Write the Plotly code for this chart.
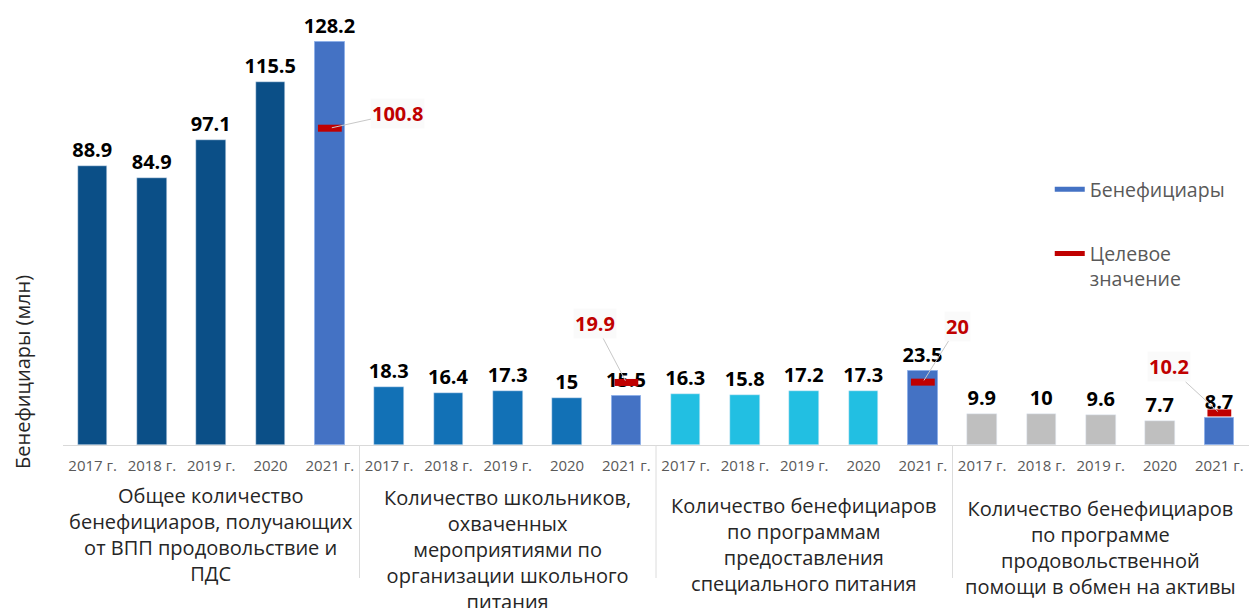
import plotly.graph_objects as go

# ---------------- data ----------------
years = ["2017 г.", "2018 г.", "2019 г.", "2020", "2021 г."]
groups = [
    "Общее количество<br>бенефициаров, получающих<br>от ВПП продовольствие и<br>ПДС",
    "Количество школьников,<br>охваченных<br>мероприятиями по<br>организации школьного<br>питания",
    "Количество бенефициаров<br>по программам<br>предоставления<br>специального питания",
    "Количество бенефициаров<br>по программе<br>продовольственной<br>помощи в обмен на активы",
]
values_total = [88.9, 84.9, 97.1, 115.5, 128.2]
values_school = [18.3, 16.4, 17.3, 15, 15.5]
values_special = [16.3, 15.8, 17.2, 17.3, 23.5]
values_assets = [9.9, 10, 9.6, 7.7, 8.7]
targets_2021 = [100.8, 19.9, 20, 10.2]

# ---------------- styling ----------------
group_colors = ["#0b4f87", "#1271b6", "#22bfe2", "#bfbfbf"]
c2021 = "#4472c4"
red = "#c00000"
FONT = "Open Sans"

all_vals = [values_total, values_school, values_special, values_assets]
n_years = len(years)

hist_x, hist_y, hist_c = [], [], []
cur_x, cur_y = [], []
for g, vals in enumerate(all_vals):
    for i, v in enumerate(vals):
        idx = g * n_years + i
        if i == n_years - 1:
            cur_x.append(idx)
            cur_y.append(v)
        else:
            hist_x.append(idx)
            hist_y.append(v)
            hist_c.append(group_colors[g])

fig = go.Figure()
lblfont = dict(family=FONT, size=20, color="#000000")
fig.add_trace(go.Bar(
    x=hist_x, y=hist_y, marker_color=hist_c, width=0.5,
    text=[f"<b>{v:g}</b>" for v in hist_y], textposition="outside",
    textfont=lblfont, constraintext="none", cliponaxis=False,
    showlegend=False, hoverinfo="skip",
))
fig.add_trace(go.Bar(
    x=cur_x, y=cur_y, marker_color=c2021, width=0.5,
    marker_line=dict(color="#8fb0e8", width=1),
    text=[f"<b>{v:g}</b>" for v in cur_y], textposition="outside",
    textfont=lblfont, constraintext="none", cliponaxis=False,
    showlegend=False, hoverinfo="skip",
))
fig.add_trace(go.Scatter(
    x=cur_x, y=targets_2021, mode="markers",
    marker=dict(symbol="line-ew", size=17, line=dict(color=red, width=7)),
    showlegend=False, cliponaxis=False, hoverinfo="skip",
))
# legend entries (no data)
fig.add_trace(go.Scatter(
    x=[None], y=[None], mode="lines", name="Бенефициары",
    line=dict(color=c2021, width=10), legendgroup="a",
))
fig.add_trace(go.Scatter(
    x=[None], y=[None], mode="lines", name="Целевое<br>значение",
    line=dict(color=red, width=4), legendgroup="b",
))

# target labels with leader lines
offsets = [(68, -15), (-31, -59), (35, -56), (-50, -46)]
for x, t, (ax, ay) in zip(cur_x, targets_2021, offsets):
    fig.add_annotation(
        x=x, y=t, xref="x", yref="y", ax=ax, ay=ay, axref="pixel", ayref="pixel",
        text=f"<b>{t:g}</b>", showarrow=True, arrowhead=0, arrowwidth=1,
        arrowcolor="#c8c8c8", standoff=2,
        font=dict(family=FONT, size=20, color=red), bgcolor="rgba(250,250,250,0.9)",
    )

# geometry helpers
PLOT_TOP, PLOT_BOT = 5, 445
H = PLOT_BOT - PLOT_TOP
def py(p):
    return (PLOT_BOT - p) / H

label_tops = [480, 482, 490, 493]
for g, txt in enumerate(groups):
    fig.add_annotation(
        x=g * n_years + (n_years - 1) / 2, y=py(label_tops[g]), xref="x", yref="paper",
        text=txt, showarrow=False, yanchor="top", xanchor="center",
        font=dict(family=FONT, size=20, color="#262626"),
    )

for g in range(1, len(groups)):
    xs = g * n_years - 0.5
    fig.add_shape(type="line", x0=xs, x1=xs, y0=py(445), y1=py(578), xref="x", yref="paper",
                  line=dict(color="#dcdcdc", width=1))

fig.add_annotation(
    x=-0.0346, y=py(372), xref="paper", yref="paper", text="Бенефициары (млн)",
    textangle=-90, showarrow=False, xanchor="center", yanchor="middle",
    font=dict(family=FONT, size=20, color="#262626"),
)

tickvals = list(range(len(groups) * n_years))
ticktext = years * len(groups)

fig.update_layout(
    width=1249, height=608,
    margin=dict(l=63, r=0, t=PLOT_TOP, b=608 - PLOT_BOT),
    paper_bgcolor="white", plot_bgcolor="white",
    barmode="overlay", bargap=0,
    xaxis=dict(range=[-0.5, 19.5], tickvals=tickvals, ticktext=ticktext,
               tickfont=dict(family=FONT, size=15, color="#595959"),
               ticklabelstandoff=7,
               showline=True, linecolor="#d9d9d9", linewidth=1,
               showgrid=False, zeroline=False, ticks="", fixedrange=True),
    yaxis=dict(range=[0, 140], visible=False, fixedrange=True),
    legend=dict(x=0.832, y=py(170), xanchor="left", yanchor="top", valign="top",
                font=dict(family=FONT, size=19.5, color="#595959"),
                tracegroupgap=36, itemsizing="constant", bgcolor="rgba(0,0,0,0)"),
    font=dict(family=FONT),
)

fig.write_html("out.html", config={"displayModeBar": False},
               post_script="document.body.style.margin='0';document.body.style.overflow='hidden';")
